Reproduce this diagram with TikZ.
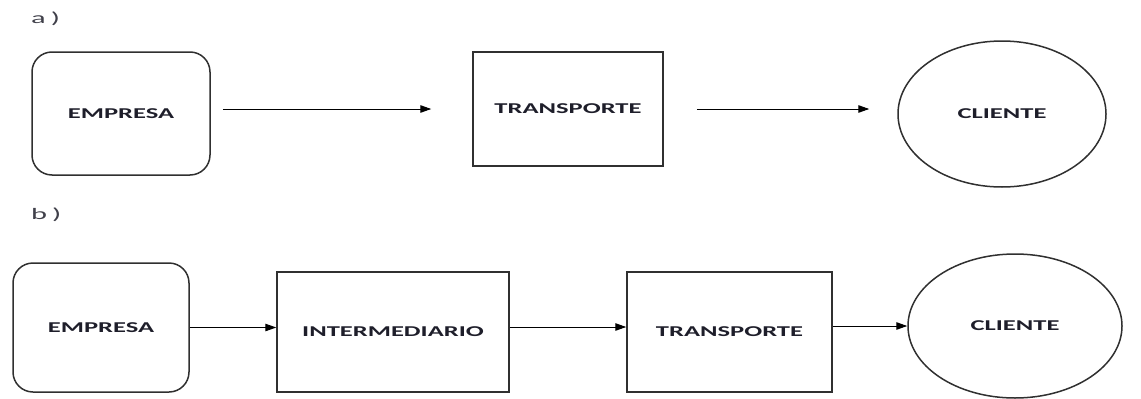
\documentclass[tikz,border=0pt]{standalone}
\usepackage{fontspec}
\usepackage{graphicx}
\setmainfont{Carlito}
\usetikzlibrary{arrows.meta,shapes.geometric}
\definecolor{edge}{HTML}{303030}
\definecolor{ink}{HTML}{1E1E2A}
\newcommand{\wide}[1]{\scalebox{1.77}[1]{#1}}
\tikzset{
  box/.style={draw=edge, line width=1.5pt, rectangle, inner sep=0pt,
    font=\bfseries\fontsize{15}{17}\selectfont, text=ink},
  roundbox/.style={box, rounded corners=20pt},
  oval/.style={box, ellipse},
  arr/.style={draw=black, line width=1pt, -{Triangle[length=11pt,width=7.5pt]}},
  tag/.style={font=\fontsize{16}{18}\selectfont, text=ink!85, anchor=west, inner sep=0pt}
}
\begin{document}
\begin{tikzpicture}[x=1pt,y=-1pt]
\useasboundingbox (0,0) rectangle (1141,399);

% row a: direct distribution
\node[tag] (la) at (31,19) {\scalebox{1.9}[1]{a\,)}};
\node[roundbox, minimum width=178pt, minimum height=123pt] (empresaA) at (121,113.5) {\wide{EMPRESA}};
\node[box, minimum width=190pt, minimum height=114pt] (transA) at (568,109) {\wide{TRANSPORTE}};
\node[oval, minimum width=208pt, minimum height=146pt] (clienteA) at (1002,114) {\wide{CLIENTE}};

\draw[arr, shorten <=12pt, shorten >=41pt] (empresaA.east |- transA.west) -- (transA.west);
\draw[arr, shorten <=33pt, shorten >=28pt] (transA.east) -- (transA.east -| clienteA.west);

% row b: distribution through an intermediary
\node[tag] (lb) at (31,215) {\scalebox{1.9}[1]{b\,)}};
\node[roundbox, minimum width=176pt, minimum height=129pt] (empresaB) at (101,327.5) {\wide{EMPRESA}};
\node[box, minimum width=232pt, minimum height=120pt] (interB) at (393,332) {\wide{INTERMEDIARIO}};
\node[box, minimum width=205pt, minimum height=120pt] (transB) at (729.5,332) {\wide{TRANSPORTE}};
\node[oval, minimum width=214pt, minimum height=144pt] (clienteB) at (1015,326) {\wide{CLIENTE}};

\draw[arr] (empresaB.east) -- (empresaB.east -| interB.west);
\draw[arr] ([yshift=5pt]interB.east) -- ([yshift=5pt]transB.west);
\draw[arr] (transB.east |- clienteB.west) -- (clienteB.west);
\end{tikzpicture}
\end{document}
